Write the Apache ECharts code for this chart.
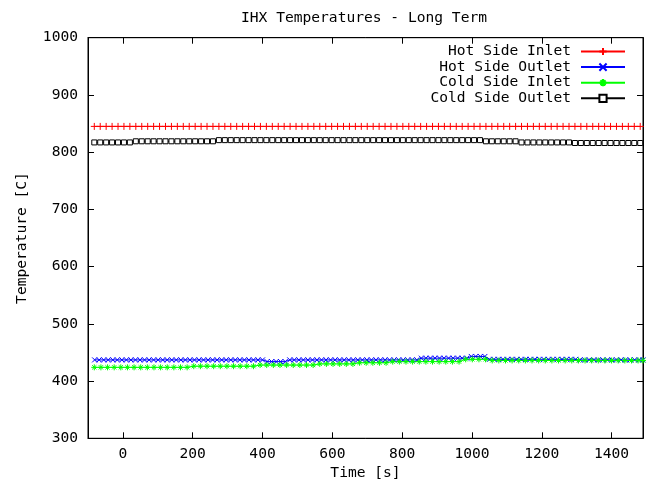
<!DOCTYPE html>
<html>
<head>
<meta charset="utf-8">
<script src="https://cdn.jsdelivr.net/npm/echarts@6/dist/echarts.min.js"></script>
<style>html,body{margin:0;padding:0;background:#fff}#c{width:647px;height:487px}</style>
</head>
<body>
<div id="c"></div>
<script>
// ---- Data ----
const seriesNames = ['Hot Side Inlet', 'Hot Side Outlet', 'Cold Side Inlet', 'Cold Side Outlet'];

// time stamps [s] shared by Hot Side Inlet and Cold Side Outlet
const timesHotInColdOut = [
  -82,-65,-48,-31,-14,3,20,37,54,71,
  88,105,122,139,156,173,190,207,224,241,
  258,275,292,309,326,343,360,377,394,411,
  428,445,462,479,496,513,530,547,564,581,
  598,615,632,649,666,683,700,717,734,751,
  768,785,802,819,836,853,870,887,904,921,
  938,955,972,989,1006,1023,1040,1057,1074,1091,
  1108,1125,1142,1159,1176,1193,1210,1227,1244,1261,
  1278,1295,1312,1329,1346,1363,1380,1397,1414,1431,
  1448,1465,1482
];
const hotSideInlet = [
  845,845,845,845,845,845,845,845,845,845,
  845,845,845,845,845,845,845,845,845,845,
  845,845,845,845,845,845,845,845,845,845,
  845,845,845,845,845,845,845,845,845,845,
  845,845,845,845,845,845,845,845,845,845,
  845,845,845,845,845,845,845,845,845,845,
  845,845,845,845,845,845,845,845,845,845,
  845,845,845,845,845,845,845,845,845,845,
  845,845,845,845,845,845,845,845,845,845,
  845,845,845
];
const coldSideOutlet = [
  817,817,817,817,817,817,817,819,819,819,
  819,819,819,819,819,819,819,819,819,819,
  819,821,821,821,821,821,821,821,821,821,
  821,821,821,821,821,821,821,821,821,821,
  821,821,821,821,821,821,821,821,821,821,
  821,821,821,821,821,821,821,821,821,821,
  821,821,821,821,821,821,819,819,819,819,
  819,819,817,817,817,817,817,817,817,817,
  817,816,816,816,816,816,816,816,816,816,
  816,816,816
];

const timesHotOut = [
  -81,-68,-55,-42,-29,-16,-3,10,23,36,
  49,62,75,88,101,114,127,140,153,166,
  179,192,205,218,231,244,257,270,283,296,
  309,322,335,348,361,374,387,400,413,426,
  439,452,465,478,491,504,517,530,543,556,
  569,582,595,608,621,634,647,660,673,686,
  699,712,725,738,751,764,777,790,803,816,
  829,842,855,868,881,894,907,920,933,946,
  959,972,985,998,1011,1024,1037,1050,1063,1076,
  1089,1102,1115,1128,1141,1154,1167,1180,1193,1206,
  1219,1232,1245,1258,1271,1284,1297,1310,1323,1336,
  1349,1362,1375,1388,1401,1414,1427,1440,1453,1466,
  1479,1490
];
const hotSideOutlet = [
  437,437,437,437,437,437,437,437,437,437,
  437,437,437,437,437,437,437,437,437,437,
  437,437,437,437,437,437,437,437,437,437,
  437,437,437,437,437,437,437,437,434,434,
  434,434,434,437,437,437,437,437,437,437,
  437,437,437,437,437,437,437,437,437,437,
  437,437,437,437,437,437,437,437,437,437,
  437,437,440,440,440,440,440,440,440,440,
  440,440,440,443,443,443,443,438,438,438,
  438,438,438,438,438,438,438,438,438,438,
  438,438,438,438,438,438,438,437,437,437,
  437,437,437,437,437,437,437,437,437,437,
  437,437
];

const timesColdIn = [
  -82,-63,-44,-25,-6,13,32,51,70,89,
  108,127,146,165,184,203,222,241,260,279,
  298,317,336,355,374,393,412,431,450,469,
  488,507,526,545,564,583,602,621,640,659,
  678,697,716,735,754,773,792,811,830,849,
  868,887,906,925,944,963,982,1001,1020,1039,
  1058,1077,1096,1115,1134,1153,1172,1191,1210,1229,
  1248,1267,1286,1305,1324,1343,1362,1381,1400,1419,
  1438,1457,1476,1490
];
const coldSideInlet = [
  424,424,424,424,424,424,424,424,424,424,
  424,424,424,424,424,426,426,426,426,426,
  426,426,426,426,426,428,428,428,428,428,
  428,428,428,428,430,430,430,430,430,430,
  432,432,432,432,432,434,434,434,434,434,
  434,434,434,434,434,434,438,438,438,438,
  436,436,436,436,436,436,436,436,436,436,
  436,436,436,436,436,436,436,436,436,436,
  436,436,436,436
];

const xTickMin = -100, xTickMax = 1490;
const yTickMin = 300, yTickMax = 1000, yTickStep = 100;

// ---- Chart ----
const FONT = 'DejaVu Sans Mono';
const pair = (ts, vs) => ts.map((t, i) => [t, vs[i]]);

const symPlus = 'path://M0,5L10,5M5,0L5,10';
const symCross = 'path://M0,0L10,10M0,10L10,0';
const symStar = 'path://M0,5L10,5M5,0L5,10M1.5,1.5L8.5,8.5M1.5,8.5L8.5,1.5';

function mkSeries(name, data, color, symbol, size, fill) {
  return {
    name: name, type: 'line', data: data,
    xAxisIndex: 0, yAxisIndex: 0,
    showSymbol: true, symbol: symbol, symbolSize: size,
    lineStyle: { color: color, width: 1 },
    itemStyle: { color: fill || color, borderColor: color, borderWidth: 1 },
    emphasis: { disabled: true },
    animation: false
  };
}

const chart = echarts.init(document.getElementById('c'), null, { renderer: 'canvas' });
const axisCommonX = {
  type: 'value', min: xTickMin, max: xTickMax, splitNumber: 8,
  axisLine: { show: true, onZero: false, lineStyle: { color: '#000', width: 1 } },
  axisTick: { show: true, inside: true, length: 6, lineStyle: { color: '#000' } },
  splitLine: { show: false }
};
const axisCommonY = {
  type: 'value', min: yTickMin, max: yTickMax, interval: yTickStep,
  axisLine: { show: true, onZero: false, lineStyle: { color: '#000', width: 1 } },
  axisTick: { show: true, inside: true, length: 6, lineStyle: { color: '#000' } },
  splitLine: { show: false }
};
const plain = v => String(v);

chart.setOption({
  backgroundColor: '#fff',
  animation: false,
  title: {
    text: 'IHX Temperatures - Long Term',
    left: 359, top: 6, textAlign: 'center',
    textStyle: { fontFamily: FONT, fontSize: 14.6, fontWeight: 'normal', color: '#000' }
  },
  legend: {
    orient: 'vertical', right: 16, top: 39, align: 'right',
    itemWidth: 44, itemHeight: 9, itemGap: 0.6,
    textStyle: { fontFamily: FONT, fontSize: 14.6, color: '#000', padding: [0, 5, 0, 0], lineHeight: 15 },
    data: seriesNames,
    selectedMode: false
  },
  grid: { left: 88, right: 4, top: 37.7, bottom: 48.7, show: true, borderColor: '#000', borderWidth: 1, backgroundColor: 'transparent' },
  xAxis: [
    Object.assign({}, axisCommonX, {
      position: 'bottom',
      name: 'Time [s]', nameLocation: 'middle', nameGap: 27,
      nameTextStyle: { fontFamily: FONT, fontSize: 14.6, color: '#000' },
      axisLabel: { show: true, margin: 8, fontFamily: FONT, fontSize: 14.6, color: '#000', showMinLabel: false, showMaxLabel: false, formatter: plain }
    }),
    Object.assign({}, axisCommonX, { position: 'top', axisLabel: { show: false } })
  ],
  yAxis: [
    Object.assign({}, axisCommonY, {
      position: 'left',
      name: 'Temperature [C]', nameLocation: 'middle', nameGap: 58, nameRotate: 90,
      nameTextStyle: { fontFamily: FONT, fontSize: 14.6, color: '#000' },
      axisLabel: { show: true, margin: 10, fontFamily: FONT, fontSize: 14.6, color: '#000', formatter: plain }
    }),
    Object.assign({}, axisCommonY, { position: 'right', axisLabel: { show: false } })
  ],
  series: [
    mkSeries(seriesNames[0], pair(timesHotInColdOut, hotSideInlet), '#ff0000', symPlus, 7),
    mkSeries(seriesNames[1], pair(timesHotOut, hotSideOutlet), '#0000ff', symCross, 5),
    mkSeries(seriesNames[2], pair(timesColdIn, coldSideInlet), '#00ff00', symStar, 6),
    mkSeries(seriesNames[3], pair(timesHotInColdOut, coldSideOutlet), '#000000', 'rect', 5, '#ffffff')
  ]
});
</script>
</body>
</html>
